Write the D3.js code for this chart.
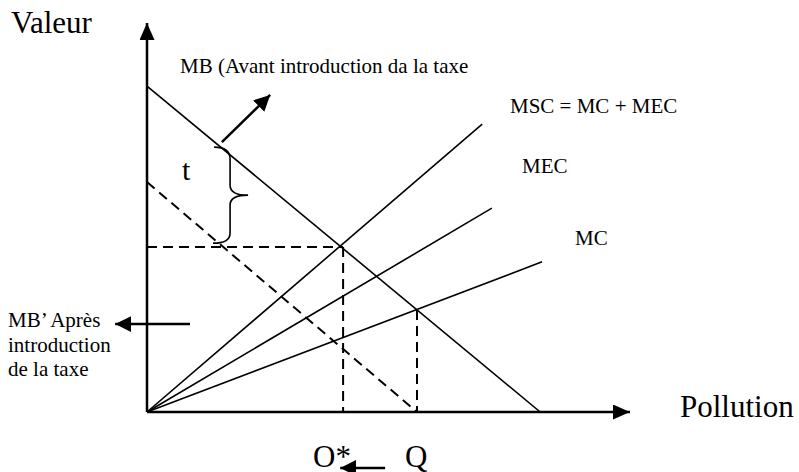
<!DOCTYPE html>
<html>
<head>
  <meta charset="utf-8">
  <title>Taxe pigouvienne</title>
  <style>
    body { margin: 0; background: #fff; }
  </style>
  <script src="https://d3js.org/d3.v7.min.js"></script>
</head>
<body>
<svg width="799" height="472"></svg>
<script>
// curves, in axis units (x: pollution, y: valeur)
var mbCurve = [[0, 8.38], [8.14, 0]];
var mbPrimeCurve = [[0, 5.91], [5.59, 0]];
var mscCurve = [[0, 0], [6.94, 7.40]];
var mecCurve = [[0, 0], [7.14, 5.24]];
var mcCurve = [[0, 0], [8.18, 3.86]];
var optimum = [4.06, 4.24];   // O*
var privateEq = [5.59, 2.62]; // Q
var taxTop = 6.81, taxBottom = 4.34;

var svg = d3.select("svg");

var x = d3.scaleLinear().domain([0, 10]).range([147, 630]);
var y = d3.scaleLinear().domain([0, 10]).range([412, 23]);

var defs = svg.append("defs");
function head(id, len, half) {
  defs.append("marker")
    .attr("id", id)
    .attr("markerUnits", "userSpaceOnUse")
    .attr("viewBox", "0 " + (-half) + " " + len + " " + (2 * half))
    .attr("refX", len).attr("refY", 0)
    .attr("markerWidth", len).attr("markerHeight", 2 * half)
    .attr("orient", "auto")
    .append("path")
    .attr("d", "M0," + (-half) + "L" + len + ",0L0," + half + "Z")
    .attr("fill", "#000");
}
head("axisHead", 17, 7.5);
head("bigHead", 16, 8);

var line = d3.line().x(function(d) { return x(d[0]); }).y(function(d) { return y(d[1]); });

// axes
svg.append("path").attr("d", line([[0, 0], [0, 10]]))
  .attr("stroke", "#000").attr("stroke-width", 2.5).attr("fill", "none")
  .attr("marker-end", "url(#axisHead)");
svg.append("path").attr("d", line([[0, 0], [10, 0]]))
  .attr("stroke", "#000").attr("stroke-width", 2.5).attr("fill", "none")
  .attr("marker-end", "url(#axisHead)");

// solid curves
[mbCurve, mscCurve, mecCurve, mcCurve].forEach(function(c) {
  svg.append("path").attr("d", line(c))
    .attr("stroke", "#000").attr("stroke-width", 1.6).attr("fill", "none");
});

// dashed lines
var dashed = [
  mbPrimeCurve,
  [[0, optimum[1]], optimum],
  [optimum, [optimum[0], 0]],
  [privateEq, [privateEq[0], 0]]
];
dashed.forEach(function(c) {
  svg.append("path").attr("d", line(c))
    .attr("stroke", "#000").attr("stroke-width", 2).attr("fill", "none")
    .attr("stroke-dasharray", "10,6");
});

// brace for t
var bx = x(1.72), bt = y(taxTop), bb = y(taxBottom), bm = (bt + bb) / 2;
var bp = d3.path();
bp.moveTo(bx - 16, bt);
bp.quadraticCurveTo(bx, bt, bx, bt + 12);
bp.lineTo(bx, bm - 10);
bp.quadraticCurveTo(bx, bm, bx + 18, bm);
bp.quadraticCurveTo(bx, bm, bx, bm + 10);
bp.lineTo(bx, bb - 10);
bp.quadraticCurveTo(bx, bb, bx - 17, bb);
svg.append("path").attr("d", bp.toString())
  .attr("stroke", "#000").attr("stroke-width", 1.6).attr("fill", "none");

// annotation arrows
var arrows = [
  [[1.55, 6.94], [2.55, 8.15]],
  [[0.89, 2.26], [-0.66, 2.26]],
  [[4.93, -1.44], [4.0, -1.44]]
];
arrows.forEach(function(a) {
  svg.append("path").attr("d", line(a))
    .attr("stroke", "#000").attr("stroke-width", 2.5).attr("fill", "none")
    .attr("marker-end", "url(#bigHead)");
});

// labels
function label(t, px, py, size) {
  svg.append("text").attr("x", px).attr("y", py)
    .attr("font-family", "'Times New Roman', Tinos, 'Liberation Serif', 'DejaVu Serif', 'Noto Serif', FreeSerif, serif")
    .attr("fill", "#000")
    .attr("font-size", size + "px").text(t);
}
label("Valeur", 11, 33, 31);
label("Pollution", 680, 417, 31);
label("MB (Avant introduction da la taxe", 180, 73, 21);
label("MSC = MC + MEC", 510, 113, 21);
label("MEC", 522, 173, 21);
label("MC", 575, 245, 21);
label("t", 182, 180, 30);
label("MB\u2019 Apr\u00e8s", 8, 327, 21);
label("introduction", 8, 352, 21);
label("de la taxe", 8, 376, 21);
label("O*", 313, 467, 31);
label("Q", 405, 467, 31);
</script>
</body>
</html>
